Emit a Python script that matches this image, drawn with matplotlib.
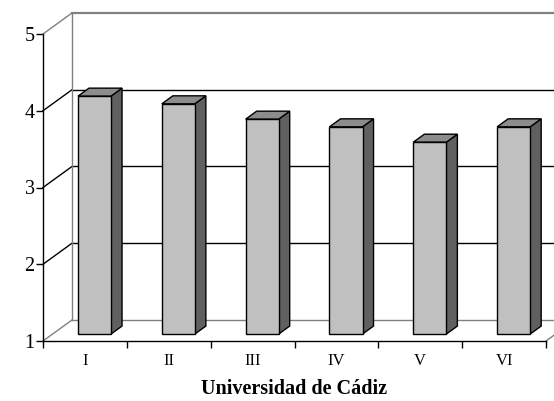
import matplotlib.pyplot as plt

# datos
categorias = ['I', 'II', 'III', 'IV', 'V', 'VI']
valores = [4.1, 4.0, 3.8, 3.7, 3.5, 3.7]
marcas_y = [1, 2, 3, 4, 5]

plt.rcParams['font.family'] = ['Liberation Serif', 'DejaVu Serif']

# desplazamiento de profundidad (efecto 3D estilo Excel), en unidades de datos
DX = 0.346
DY = 0.274
f0, f1 = 0.33, 0.71      # profundidad de las barras (delante / detras)
ancho = 0.394

fig = plt.figure(figsize=(5.54, 4.01), dpi=100)
ax = fig.add_axes([43 / 554, 60 / 401, 503 / 554, 307 / 401])
ax.set_xlim(0, len(categorias))
ax.set_ylim(1, 5)

gris = '#808080'

# pared del fondo
for v in marcas_y:
    color = gris if v in (1, 5) else 'black'
    lw = 1.6 if v == 5 else 1.0
    ax.plot([DX, len(categorias) + DX + 1], [v + DY, v + DY], color=color, lw=lw, clip_on=False)
    ax.plot([0, DX], [v, v + DY], color=color, lw=1.0, clip_on=False)
ax.plot([DX, DX], [1 + DY, 5 + DY], color=gris, lw=1.0, clip_on=False)
ax.plot([len(categorias), len(categorias) + DX], [1, 1 + DY], color=gris, lw=1.0, clip_on=False)

# barras 3D
for i, v in enumerate(valores):
    x0 = i + 0.5 - ancho / 2 + f0 * DX
    x1 = x0 + ancho
    yb = 1 + f0 * DY
    yt = v + f0 * DY
    ddx = (f1 - f0) * DX
    ddy = (f1 - f0) * DY
    # lateral
    ax.fill([x1, x1 + ddx, x1 + ddx, x1], [yb, yb + ddy, yt + ddy, yt],
            facecolor='#606060', edgecolor='black', lw=1.0, clip_on=False, zorder=3)
    # tapa
    ax.fill([x0, x1, x1 + ddx, x0 + ddx], [yt, yt, yt + ddy, yt + ddy],
            facecolor='#8c8c8c', edgecolor='black', lw=1.0, clip_on=False, zorder=3)
    # frente
    ax.fill([x0, x1, x1, x0], [yb, yb, yt, yt],
            facecolor='#c0c0c0', edgecolor='black', lw=1.0, clip_on=False, zorder=4)

for s in ['top', 'right']:
    ax.spines[s].set_visible(False)
ax.spines['left'].set_linewidth(1.0)
ax.spines['bottom'].set_linewidth(1.0)

ax.set_yticks(marcas_y)
ax.set_yticklabels([str(v) for v in marcas_y], fontsize=14.5)
ax.tick_params(axis='y', length=5, width=1, pad=1)

ax.set_xticks(range(len(categorias) + 1))
ax.set_xticklabels([])
ax.set_xticks([i + 0.5 for i in range(len(categorias))], minor=True)
ax.set_xticklabels(categorias, minor=True, fontsize=12)
ax.tick_params(axis='x', which='major', length=5, width=1)
ax.tick_params(axis='x', which='minor', length=0, pad=8.5)

ax.set_xlabel('Universidad de Cádiz', fontsize=14.5, fontweight='bold', labelpad=7)

fig.savefig('out.png', dpi=100)
